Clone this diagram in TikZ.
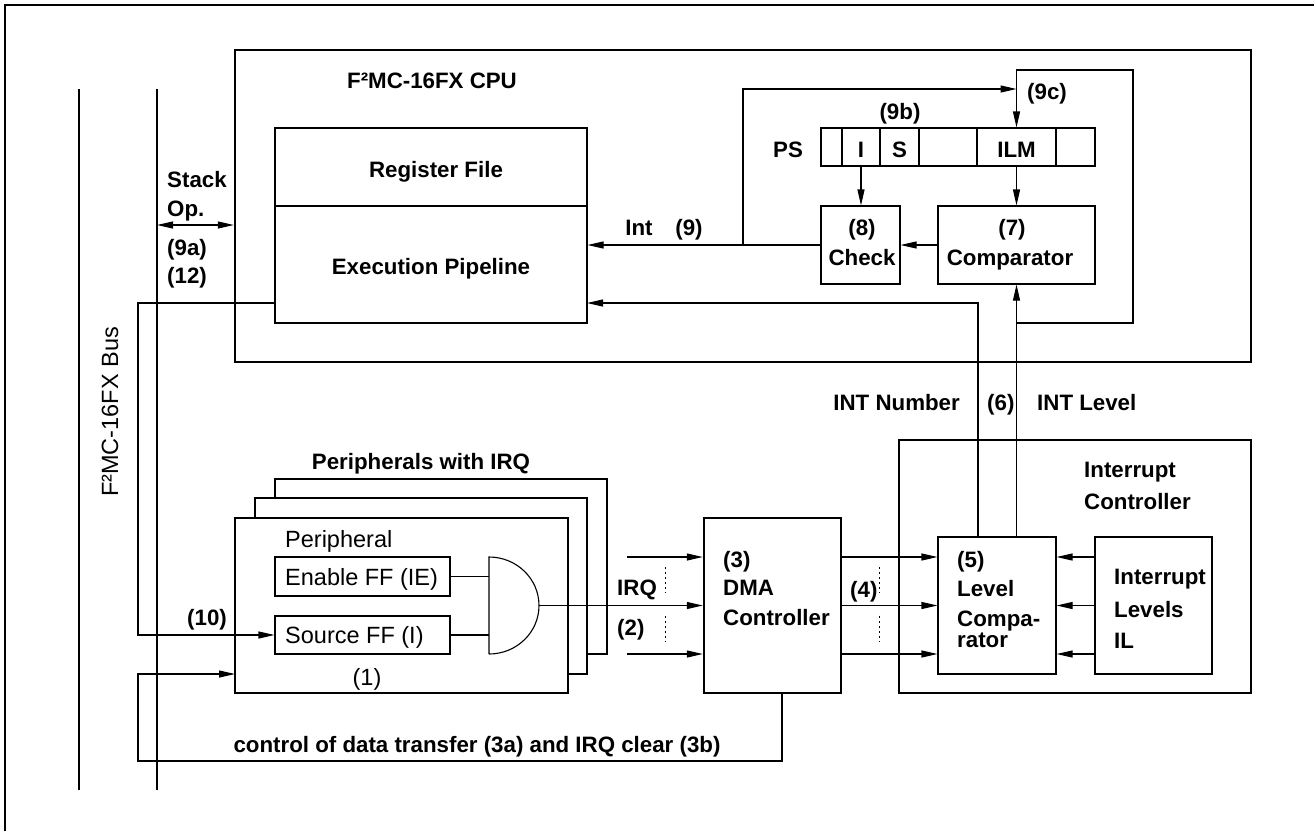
\documentclass[tikz,border=0pt]{standalone}
\usepackage{fontspec}
\setmainfont{Liberation Sans}
\usetikzlibrary{arrows.meta,calc}
\tikzset{
  ln/.style={line width=1.1pt},
  bx/.style={draw, line width=1.1pt, inner sep=0pt},
  bbx/.style={draw, line width=2.4pt, inner sep=0pt},
  arr/.style={line width=1.1pt, -{Triangle[length=16pt,width=7pt]}},
  darr/.style={line width=1.1pt, {Triangle[length=16pt,width=7pt]}-{Triangle[length=16pt,width=7pt]}},
  dots/.style={line width=0.8pt, dash pattern=on 2pt off 3pt},
  bt/.style={font=\fontsize{22.3}{26}\selectfont\bfseries, inner sep=0pt},
  rt/.style={font=\fontsize{23.5}{28}\selectfont, inner sep=0pt},
}
\begin{document}
\begin{tikzpicture}[x=1pt,y=-1pt]
\useasboundingbox (0,0) rectangle (1314,831);
% outer frame
\draw[line width=2.8pt] (5,831) -- (5,5) -- (1314,5);
% bus lines
\coordinate (busAt) at (79,89); \coordinate (busAb) at (79,790);
\coordinate (busBt) at (157,89); \coordinate (busBb) at (157,790);
\draw[line width=2pt] (busAt) -- (busAb);
\draw[line width=2pt] (busBt) -- (busBb);
\node[rt, rotate=90, anchor=base west] (buslbl) at (118,497) {F²MC-16FX Bus};

% CPU
\node[bbx, minimum width=1016pt, minimum height=312pt] (CPU) at (743,206) {};
\node[bt, anchor=base] (tcpu) at (432,88) {F²MC-16FX CPU};
\node[bx, minimum width=312pt, minimum height=78pt] (RF) at (431,167) {};
\node[bx, minimum width=312pt, minimum height=117pt] (EP) at (431,264.5) {};
\node[bt, anchor=base] (trf) at (436,177) {Register File};
\node[bt, anchor=base] (tep) at (431,274) {Execution Pipeline};

% stack op
\coordinate (so) at (157,225);
\draw[darr] (so) -- (so -| CPU.west);
\node[bt, anchor=base west] (tst1) at (167,187) {Stack};
\node[bt, anchor=base west] (tst2) at (167,216) {Op.};
\node[bt, anchor=base west] (t9a) at (167,255) {(9a)};
\node[bt, anchor=base west] (t12) at (167,283) {(12)};

% PS register
\node[bx, minimum width=21pt, minimum height=38pt] (c0) at (831.5,147) {};
\node[bx, minimum width=38pt, minimum height=38pt] (cI) at (861,147) {};
\node[bx, minimum width=39pt, minimum height=38pt] (cS) at (899.5,147) {};
\node[bx, minimum width=58pt, minimum height=38pt] (c3) at (948,147) {};
\node[bx, minimum width=79pt, minimum height=38pt] (cILM) at (1016.5,147) {};
\node[bx, minimum width=39pt, minimum height=38pt] (c5) at (1075.5,147) {};
\node[bt, anchor=base] (tps) at (788,157) {PS};
\node[bt, anchor=base] (tI) at (861,157) {I};
\node[bt, anchor=base] (tS) at (899.5,157) {S};
\node[bt, anchor=base] (tILM) at (1016.5,157) {ILM};
\node[bt, anchor=base] (t9b) at (900,119) {(9b)};
\node[bt, anchor=base west] (t9c) at (1027,99) {(9c)};

% check and comparator
\node[bx, minimum width=79pt, minimum height=78pt] (Check) at (860.5,245) {};
\node[bt, anchor=base] (t8) at (862,235) {(8)};
\node[bt, anchor=base] (tchk) at (862,265) {Check};
\node[bx, minimum width=157pt, minimum height=78pt] (Comp) at (1016.5,245) {};
\node[bt, anchor=base] (t7) at (1012,235) {(7)};
\node[bt, anchor=base] (tcmp) at (1010,265) {Comparator};

\draw[arr] (cI.south) -- (cI.south |- Check.north);
\draw[arr] (cILM.south) -- (cILM.south |- Comp.north);
\draw[arr] (Comp.west) -- (Check.east);
\draw[arr] (Check.west) -- (Check.west -| EP.east);
\node[bt, anchor=base] (tint) at (639,235) {Int};
\node[bt, anchor=base] (t9) at (689,235) {(9)};

% (9) branch to (9c)
\coordinate (intb) at (743,245);
\coordinate (c9) at (1016.5,89);
\draw[arr] (intb) |- (c9);
% (9c) loop
\coordinate (lpa) at (1016.5,323);
\coordinate (lpb) at (1133,323);
\coordinate (lpc) at (1133,70);
\coordinate (lpd) at (1016.5,70);
\draw[arr] (lpa) -- (lpb) -- (lpc) -- (lpd) -- (cILM.north);

% Interrupt controller
\node[bbx, minimum width=352pt, minimum height=253pt] (IC) at (1075,566.5) {};
\node[bt, anchor=base west] (tic1) at (1084,477) {Interrupt};
\node[bt, anchor=base west] (tic2) at (1084,509) {Controller};
\node[bx, minimum width=118pt, minimum height=137pt] (LC) at (997,605.5) {};
\node[bt, anchor=base west] (t5) at (957,567) {(5)};
\node[bt, anchor=base west] (tlc1) at (957,596) {Level};
\node[bt, anchor=base west] (tlc2) at (957,626) {Compa-};
\node[bt, anchor=base west] (tlc3) at (957,647) {rator};
\node[bx, minimum width=117pt, minimum height=137pt] (IL) at (1153.5,605.5) {};
\node[bt, anchor=base west] (til1) at (1114,584) {Interrupt};
\node[bt, anchor=base west] (til2) at (1114,617) {Levels};
\node[bt, anchor=base west] (til3) at (1114,648) {IL};

% INT level / number
\draw[arr] (Comp.south |- LC.north) -- (Comp.south);
\coordinate (intn) at (978,537);
\coordinate (ep303) at (587,303);
\draw[arr] (intn) |- (ep303);
\node[bt, anchor=base east] (tnum) at (960,410) {INT Number};
\node[bt, anchor=base west] (t6) at (987,410) {(6)};
\node[bt, anchor=base west] (tlev) at (1037,410) {INT Level};

% DMA
\node[bbx, minimum width=137pt, minimum height=175pt] (DMA) at (772.5,605.5) {};
\node[bt, anchor=base west] (t3) at (723,567) {(3)};
\node[bt, anchor=base west] (tdma1) at (723,595) {DMA};
\node[bt, anchor=base west] (tdma2) at (723,625) {Controller};

\foreach \s in {48.5,0,-48.5} {
  \draw[arr] ([yshift=\s pt]DMA.east) -- ([yshift=\s pt]LC.west);
  \draw[arr] ([yshift=\s pt]IL.west) -- ([yshift=\s pt]LC.east);
}
\node[bt, anchor=base west] (t4) at (850,597) {(4)};
\coordinate (d4a) at (879,567); \coordinate (d4b) at (879,593);
\coordinate (d4c) at (879,616); \coordinate (d4d) at (879,642);
\draw[dots] (d4a) -- (d4b);
\draw[dots] (d4c) -- (d4d);

% peripherals
\node[bx, fill=white, minimum width=332pt, minimum height=175pt] (P3) at (441,566.5) {};
\node[bx, fill=white, minimum width=332pt, minimum height=176pt] (P2) at (421,586) {};
\node[bbx, fill=white, minimum width=333pt, minimum height=175pt] (P1) at (401.5,605.5) {};
\node[bt, anchor=base] (tpw) at (421,469) {Peripherals with IRQ};
\node[rt, anchor=base west] (tper) at (285,547) {Peripheral};
\node[bx, minimum width=175pt, minimum height=39pt] (EN) at (362.5,576.5) {};
\node[bx, minimum width=175pt, minimum height=38pt] (SRC) at (362.5,635) {};
\node[rt, anchor=base west] (ten) at (285,585) {Enable FF (IE)};
\node[rt, anchor=base west] (tsrc) at (285,643) {Source FF (I)};
\node[rt, anchor=base] (t1) at (367,685) {(1)};

% AND gate
\draw[ln] (489,654) -- (489,557) arc[start angle=-90, end angle=90, x radius=50, y radius=48.5];
\coordinate (g1) at (489,576.5);
\coordinate (g2) at (489,635);
\coordinate (gout) at (539,605.5);
\draw[ln] (EN.east) -- (g1);
\draw[ln] (SRC.east) -- (g2);
\draw[arr] (gout) -- (DMA.west);
\coordinate (irqa) at (627,557);
\coordinate (irqc) at (627,654);
\draw[arr] (irqa) -- (irqa -| DMA.west);
\draw[arr] (irqc) -- (irqc -| DMA.west);
\coordinate (d2a) at (665,567); \coordinate (d2b) at (665,593);
\coordinate (d2c) at (665,616); \coordinate (d2d) at (665,642);
\draw[dots] (d2a) -- (d2b);
\draw[dots] (d2c) -- (d2d);
\node[bt, anchor=base west] (tirq) at (617,595) {IRQ};
\node[bt, anchor=base west] (t2) at (617,635) {(2)};

% feedback from execution pipeline to source FF
\coordinate (epw) at (275,303);
\coordinate (fb) at (138,303);
\draw[arr] (epw) -- (fb) |- (SRC.west);
\node[bt, anchor=base west] (t10) at (187,625) {(10)};

% DMA control back to peripheral
\coordinate (dmab) at (782,693);
\coordinate (cb1) at (782,761);
\coordinate (cb2) at (138,761);
\coordinate (pin) at (235,674);
\draw[arr] (dmab) -- (cb1) -- (cb2) |- (pin);
\node[bt, anchor=base] (tctl) at (477,752) {control of data transfer (3a) and IRQ clear (3b)};
\end{tikzpicture}
\end{document}
